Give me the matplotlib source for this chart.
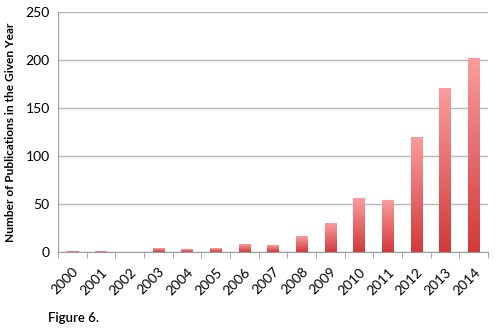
import matplotlib
matplotlib.use("Agg")
import matplotlib.pyplot as plt
import numpy as np
from matplotlib.colors import LinearSegmentedColormap

# Publications per year
years = ['2000', '2001', '2002', '2003', '2004', '2005', '2006', '2007',
         '2008', '2009', '2010', '2011', '2012', '2013', '2014']
counts = [1, 1, 0, 4, 3, 4, 8, 7, 16, 30, 56, 54, 120, 171, 202]

plt.rcParams['font.family'] = ['Lato', 'DejaVu Sans']

fig = plt.figure(figsize=(5, 3.3), dpi=100)
ax = fig.add_axes([0.116, 0.237, 0.86, 0.726])

x = np.arange(len(years))
bars = ax.bar(x, counts, width=0.4, color='none', edgecolor='none', zorder=3)

# vertical red gradient inside each bar: light on top, dark at the base
cmap = LinearSegmentedColormap.from_list('redgrad', ['#d2393a', '#fa9c9c'])
grad = np.linspace(0, 1, 256).reshape(-1, 1)
for b in bars:
    h = b.get_height()
    if h <= 0:
        continue
    x0 = b.get_x()
    im = ax.imshow(grad, cmap=cmap, origin='lower', aspect='auto',
                   extent=[x0, x0 + b.get_width(), 0, h], zorder=3)
    im.set_clip_path(b)

ax.set_xlim(-0.5, len(years) - 0.5)
ax.set_ylim(0, 250)
ax.set_yticks(range(0, 251, 50))
ax.yaxis.grid(True, color='#b5b5b5', linewidth=1)
ax.set_axisbelow(True)

ax.set_xticks(x)
ax.set_xticklabels(years, rotation=45, ha='right', rotation_mode='anchor',
                   fontsize=10)
ax.tick_params(axis='x', length=0, pad=10)
ax.set_xticks(np.arange(-0.5, len(years)), minor=True)
ax.tick_params(axis='x', which='minor', length=4, color='#9a9a9a')
ax.tick_params(axis='y', length=0, labelsize=10, pad=6)

for s in ['top', 'right']:
    ax.spines[s].set_visible(False)
ax.spines['left'].set_color('#9a9a9a')
ax.spines['bottom'].set_color('#9a9a9a')

ax.set_ylabel('Number of Publications in the Given Year', fontsize=8.6,
              fontweight='bold', labelpad=7)

fig.text(0.096, 0.025, 'Figure 6.', fontsize=9.5, fontweight='semibold')

fig.savefig('out.png', dpi=100)
